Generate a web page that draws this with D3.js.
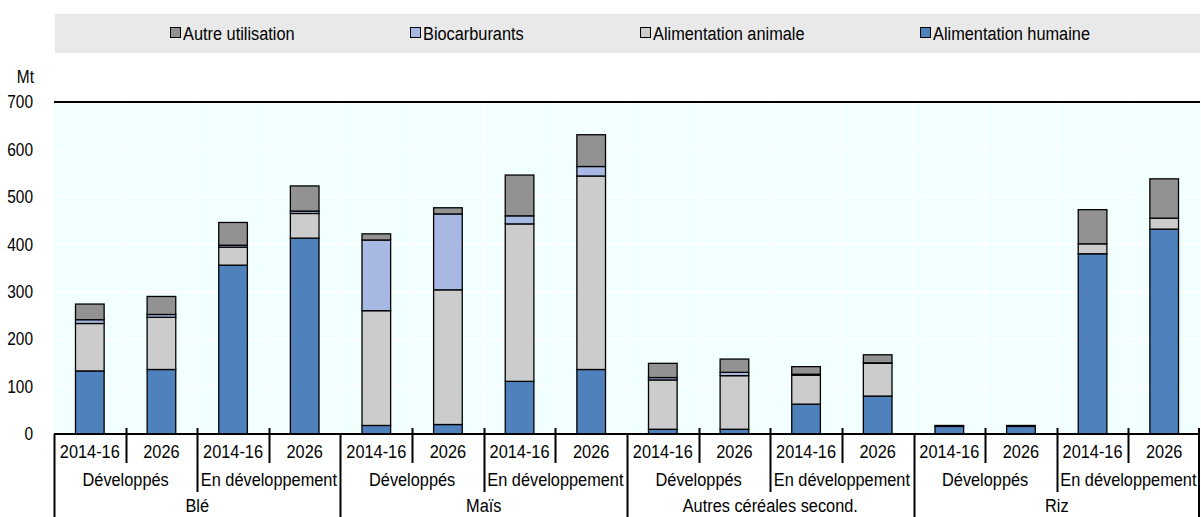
<!DOCTYPE html>
<html lang="fr">
<head>
<meta charset="UTF-8">
<title>Utilisation des céréales</title>
<script src="https://d3js.org/d3.v7.min.js"></script>
<style>
    body { margin: 0; background: #fff; }
    svg { display: block; }
    text { font-family: "Liberation Sans", Arial, sans-serif; font-size: 19px; fill: #000; }
</style>
</head>
<body>
<svg id="chart" width="1201" height="517"></svg>
<script>
// données (Mt)
const commodities = ["Blé", "Maïs", "Autres céréales second.", "Riz"];
const groups = ["Développés", "En développement"];
const periods = ["2014-16", "2026"];
const seriesNames = ["Alimentation humaine", "Alimentation animale", "Biocarburants", "Autre utilisation"];
// ordre : Blé (Dév 2014-16, Dév 2026, EnDév 2014-16, EnDév 2026), Maïs, Autres, Riz
const humaine   = [133, 136, 356, 413,  18, 20, 111, 136,  10, 10, 63, 80,  16, 16, 380, 432];
const animale   = [100, 110,  38,  52, 242, 284, 332, 408, 104, 113, 61, 69,  0,  0,  21,  23];
const biocarb   = [  8,   6,   4,   5, 149, 160,  17,  20,   5,   7,  2,  1,  0,  0,   0,   0];
const autre     = [ 33,  38,  48,  53,  13,  13,  86,  67,  30,  28, 16, 17,  2,  2,  72,  83];
const yTicks = [0, 100, 200, 300, 400, 500, 600, 700];

const colors = {
    "Alimentation humaine": "#4F81BD",
    "Alimentation animale": "#CCCCCC",
    "Biocarburants": "#A7B9E3",
    "Autre utilisation": "#929292"
};
const legendOrder = ["Autre utilisation", "Biocarburants", "Alimentation animale", "Alimentation humaine"];

// table des barres
const rows = [];
commodities.forEach((c, ci) => {
    groups.forEach((g, gi) => {
        periods.forEach((p, pi) => {
            const i = ci * 4 + gi * 2 + pi;
            rows.push({
                key: i, commodity: c, group: g, period: p,
                "Alimentation humaine": humaine[i],
                "Alimentation animale": animale[i],
                "Biocarburants": biocarb[i],
                "Autre utilisation": autre[i]
            });
        });
    });
});

// police étroite : Liberation Sans comprimée horizontalement
function narrow(sel, k) {
    sel.each(function() {
        const t = d3.select(this);
        const tx = +t.attr("x") || 0, ty = +t.attr("y") || 0;
        t.attr("x", 0).attr("y", 0).attr("transform", `translate(${tx},${ty}) scale(${k},1)`);
    });
}

const svg = d3.select("#chart");
const mLeft = 54, mRight = 1200, mTop = 102, mBottom = 434;

const x = d3.scaleBand().domain(rows.map(d => d.key)).range([mLeft, mRight]).paddingInner(0.6).paddingOuter(0.3);
const y = d3.scaleLinear().domain([0, 700]).range([mBottom, mTop]);
const step = x.step();

// légende
svg.append("rect").attr("x", 55).attr("y", 14).attr("width", 1145).attr("height", 39).attr("fill", "#E9E9E9");
const legX = [170, 410, 640, 920];
legendOrder.forEach((s, i) => {
    const lg = svg.append("g").attr("transform", `translate(${legX[i]},33)`);
    lg.append("rect").attr("x", 0.5).attr("y", -5.5).attr("width", 10).attr("height", 10)
        .attr("fill", colors[s]).attr("stroke", "#000").attr("stroke-width", 1);
    lg.append("text").attr("x", 13).attr("y", 0).attr("dy", "0.35em").text(s).call(narrow, 0.86);
});

// fond du graphique
svg.append("rect").attr("x", mLeft).attr("y", mTop).attr("width", mRight - mLeft).attr("height", mBottom - mTop).attr("fill", "#F2FFFF");

// grille
svg.append("g").selectAll("line").data(yTicks.slice(1)).join("line")
    .attr("x1", mLeft).attr("x2", mRight).attr("y1", d => y(d)).attr("y2", d => y(d))
    .attr("stroke", "#fff").attr("stroke-width", 1.5);
svg.append("g").selectAll("line").data(rows.slice(1)).join("line")
    .attr("x1", d => x(d.key) - (step - x.bandwidth()) / 2).attr("x2", d => x(d.key) - (step - x.bandwidth()) / 2)
    .attr("y1", mTop).attr("y2", mBottom)
    .attr("stroke", "#fff").attr("stroke-width", 1.5);

// axe Y
const yAxis = svg.append("g").attr("transform", `translate(${mLeft},0)`)
    .call(d3.axisLeft(y).tickValues(yTicks).tickSize(0).tickPadding(21));
yAxis.select(".domain").remove();
yAxis.selectAll("text").attr("font-family", null).attr("font-size", null).style("font-size", "18px").call(narrow, 0.86);
svg.append("text").attr("x", 34).attr("y", 77).attr("dy", "0.35em").attr("text-anchor", "end")
    .style("font-size", "18px").text("Mt").call(narrow, 0.86);

// barres empilées
const stack = d3.stack().keys(seriesNames)(rows);
svg.append("g").selectAll("g").data(stack).join("g")
    .attr("fill", d => colors[d.key])
    .selectAll("rect").data(d => d.filter(v => v[1] - v[0] > 0)).join("rect")
    .attr("x", d => x(d.data.key))
    .attr("width", x.bandwidth())
    .attr("y", d => y(d[1]))
    .attr("height", d => y(d[0]) - y(d[1]))
    .attr("stroke", "#000").attr("stroke-width", 1.3);

// bordure haute et axe zéro
svg.append("line").attr("x1", mLeft).attr("x2", mRight).attr("y1", mTop).attr("y2", mTop).attr("stroke", "#000").attr("stroke-width", 2);
svg.append("line").attr("x1", mLeft).attr("x2", mRight).attr("y1", mBottom).attr("y2", mBottom).attr("stroke", "#000").attr("stroke-width", 2);

// étiquettes de l'axe X (3 niveaux)
const xg = svg.append("g");
const edge = d => x(d.key) - (step - x.bandwidth()) / 2;
xg.selectAll(".per").data(rows).join("text")
    .attr("x", d => x(d.key) + x.bandwidth() / 2).attr("y", 451).attr("dy", "0.35em")
    .attr("text-anchor", "middle").text(d => d.period).call(narrow, 0.86);
const grpRows = rows.filter((d, i) => i % 2 === 0);
xg.selectAll(".grp").data(grpRows).join("text")
    .attr("x", d => edge(d) + step).attr("y", 479).attr("dy", "0.35em")
    .attr("text-anchor", "middle").text(d => d.group).call(narrow, 0.86);
const comRows = rows.filter((d, i) => i % 4 === 0);
xg.selectAll(".com").data(comRows).join("text")
    .attr("x", d => edge(d) + step * 2).attr("y", 505).attr("dy", "0.35em")
    .attr("text-anchor", "middle").text(d => d.commodity).call(narrow, 0.86);

// séparateurs
rows.forEach((d, i) => {
    const xx = Math.round(edge(d)) + 0.5;
    let y2 = 463;
    if (i % 4 === 0) y2 = 517;
    else if (i % 2 === 0) y2 = 492;
    xg.append("line").attr("x1", xx).attr("x2", xx).attr("y1", i % 4 === 0 ? mBottom : 428).attr("y2", y2)
        .attr("stroke", "#000").attr("stroke-width", 2);
});
xg.append("line").attr("x1", mRight - 1).attr("x2", mRight - 1).attr("y1", 428).attr("y2", 517)
    .attr("stroke", "#000").attr("stroke-width", 2);
</script>
</body>
</html>
